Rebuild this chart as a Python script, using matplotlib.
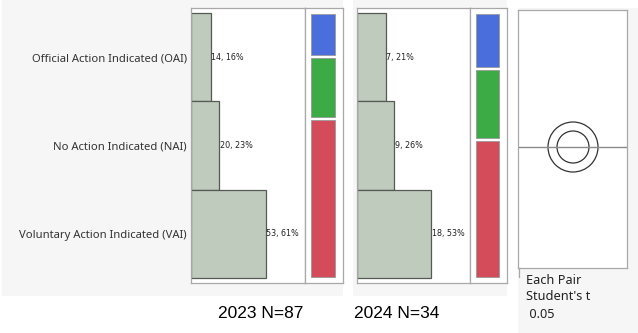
import matplotlib
matplotlib.use("Agg")
import matplotlib.pyplot as plt
from matplotlib.patches import Rectangle, Circle

W, H = 638, 333

categories = ["Official Action Indicated (OAI)",
              "No Action Indicated (NAI)",
              "Voluntary Action Indicated (VAI)"]
counts_2023 = [14, 20, 53]
counts_2024 = [7, 9, 18]
titles = ["2023 N=87", "2024 N=34"]
strip_colors = ["#4a6fdc", "#3cab46", "#d44b5a"]
test_lines = ["Each Pair", "Student's t", " 0.05"]

BAR_FILL = "#bfcbbc"
BAR_EDGE = "#555a55"
FRAME = "#a8a8a8"
PANEL_BG = "#f6f6f6"


def px(x0, y0, x1, y1):
    return [x0 / W, 1 - y1 / H, (x1 - x0) / W, (y1 - y0) / H]


fig = plt.figure(figsize=(W / 100, H / 100), dpi=100)
fig.patch.set_facecolor("white")

# gray panel backgrounds
for rect in [(2, 0, 343, 296), (353, 0, 507, 296), (518, 8, 638, 333)]:
    bg = fig.add_axes(px(*rect), zorder=0)
    bg.set_facecolor(PANEL_BG)
    bg.set_xticks([])
    bg.set_yticks([])
    for s in bg.spines.values():
        s.set_visible(False)


def draw_panel(counts, bar_box, strip_box, title, title_x, show_labels):
    total = sum(counts)
    ax = fig.add_axes(px(*bar_box), zorder=1)
    ax.set_facecolor("white")
    ypos = list(range(len(counts)))
    ax.barh(ypos, counts, height=1.0, color=BAR_FILL, edgecolor=BAR_EDGE,
            linewidth=0.9)
    ax.set_xlim(0, max(counts) * 1.52)
    ax.set_ylim(len(counts) - 0.5 + 0.057, -0.5 - 0.057)
    for y, c in zip(ypos, counts):
        ax.text(c + max(counts) * 0.005, y, f"{c}, {round(100 * c / total)}%",
                va="center", ha="left", fontsize=5.8, color="#222222")
    ax.set_xticks([])
    if show_labels:
        ax.set_yticks(ypos)
        ax.set_yticklabels(categories, fontsize=8.1, color="#333333",
                           family="Noto Sans")
        ax.tick_params(axis="y", length=0, pad=3)
    else:
        ax.set_yticks([])
    for s in ax.spines.values():
        s.set_color(FRAME)
        s.set_linewidth(0.9)

    sx = fig.add_axes(px(*strip_box), zorder=1)
    sx.set_facecolor("white")
    sx.set_xlim(0, 1)
    sx.set_ylim(1, 0)
    top, bottom, gap = 6 / 275, 6 / 275, 3 / 275
    avail = 1 - top - bottom - gap * (len(counts) - 1)
    y = top
    for c, col in zip(counts, strip_colors):
        h = avail * c / total
        sx.add_patch(Rectangle((6 / 38, y), 24 / 38, h, facecolor=col,
                               edgecolor="#9a9a9a", linewidth=0.6))
        y += h + gap
    sx.set_xticks([])
    sx.set_yticks([])
    for s in sx.spines.values():
        s.set_color(FRAME)
        s.set_linewidth(0.9)

    fig.text(title_x / W, 1 - 314 / H, title, ha="center", va="center",
             fontsize=12.5, family="Liberation Sans", color="black")


draw_panel(counts_2023, (191, 8, 305, 283), (305, 8, 343, 283),
           titles[0], 261, True)
draw_panel(counts_2024, (357, 8, 470, 283), (470, 8, 507, 283),
           titles[1], 397, False)

# comparison circles panel
cx = fig.add_axes(px(518, 10, 627, 268), zorder=1)
cx.set_facecolor("white")
cx.set_xlim(518, 627)
cx.set_ylim(268, 10)
cx.axhline(147, color="#8a8a8a", linewidth=1.0)
for r in (25, 16):
    cx.add_patch(Circle((573, 147), r, fill=False, edgecolor="#333333",
                        linewidth=0.9))
cx.set_xticks([])
cx.set_yticks([])
for s in cx.spines.values():
    s.set_color(FRAME)
    s.set_linewidth(0.9)
fig.add_artist(plt.Line2D([518.5 / W, 518.5 / W], [1 - 268 / H, 1 - 277 / H],
                          color=FRAME, linewidth=0.9))
for i, line in enumerate(test_lines):
    fig.text(526 / W, 1 - (280 + 17 * i) / H, line, ha="left", va="center",
             fontsize=9.2, family="Noto Sans", color="#222222")

fig.savefig("out.png", dpi=100)
